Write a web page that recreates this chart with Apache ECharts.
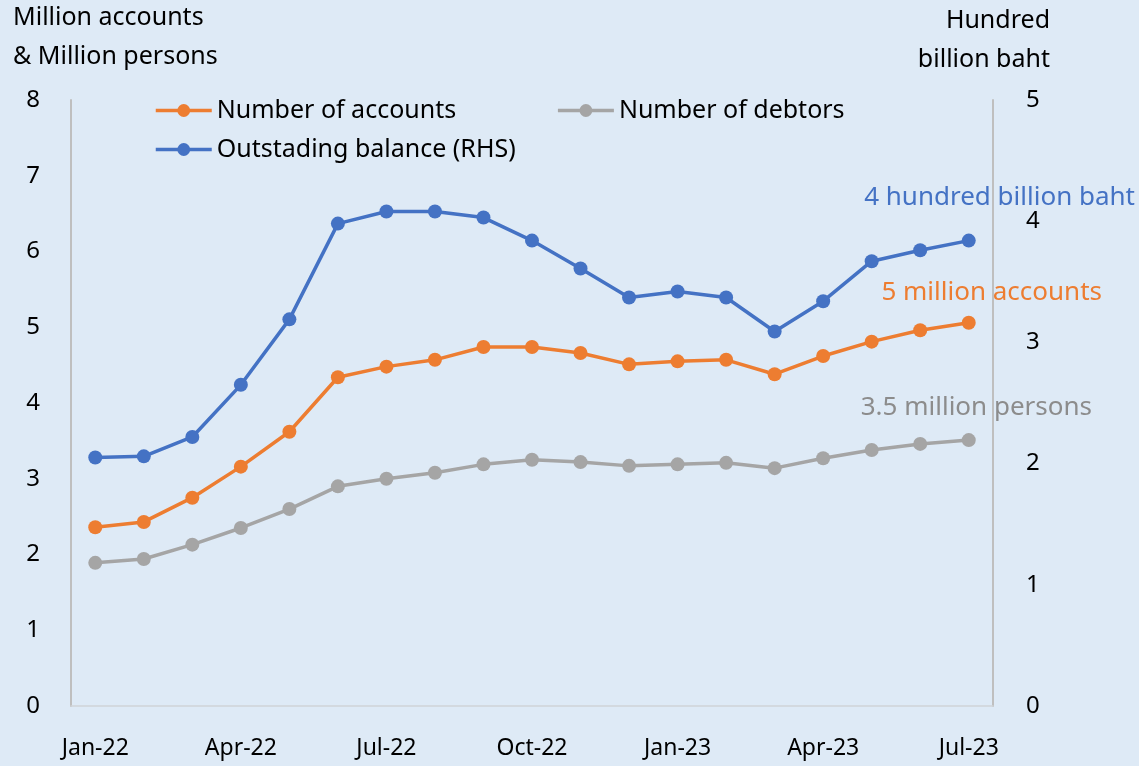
<!DOCTYPE html>
<html><head><meta charset="utf-8">
<script src="https://cdn.jsdelivr.net/npm/echarts@6/dist/echarts.min.js"></script>
<style>html,body{margin:0;padding:0;background:#deeaf6;}#c{width:1139px;height:766px;}</style>
</head><body><div id="c"></div>
<script>
const categories = ['Jan-22','Feb-22','Mar-22','Apr-22','May-22','Jun-22','Jul-22','Aug-22','Sep-22','Oct-22','Nov-22','Dec-22','Jan-23','Feb-23','Mar-23','Apr-23','May-23','Jun-23','Jul-23'];
const accounts = [2.36,2.43,2.75,3.16,3.62,4.34,4.48,4.57,4.74,4.74,4.66,4.51,4.55,4.57,4.38,4.62,4.81,4.96,5.06];
const debtors  = [1.89,1.94,2.13,2.35,2.60,2.90,3.00,3.08,3.19,3.25,3.22,3.17,3.19,3.21,3.14,3.27,3.38,3.46,3.51];
const balance  = [2.05,2.06,2.22,2.65,3.19,3.98,4.08,4.08,4.03,3.84,3.61,3.37,3.42,3.37,3.09,3.34,3.67,3.76,3.84];
const leftTicks = [0,8,1];
const rightTicks = [0,5,1];

const FONT = 'Noto Sans';
const chart = echarts.init(document.getElementById('c'));
function lineSeries(name, data, color, yi){
  return {name, type:'line', data, yAxisIndex: yi, symbol:'circle', symbolSize:14,
    lineStyle:{width:3.5,color}, itemStyle:{color}, z: 3};
}
const legendText = {fontFamily:FONT,fontSize:25,color:'#000'};
chart.setOption({
  backgroundColor:'#deeaf6',
  textStyle:{fontFamily:FONT},
  grid:{left:71,right:146,top:100,bottom:60},
  legend:[
    {data:['Number of accounts','Number of debtors'], left:149, top:93, itemWidth:56, itemHeight:16, itemGap:100,
     lineStyle:{width:3.5}, textStyle:legendText},
    {data:['Outstading balance (RHS)'], left:149, top:132, itemWidth:56, itemHeight:16,
     lineStyle:{width:3.5}, textStyle:legendText}
  ],
  xAxis:{type:'category', data:categories, boundaryGap:true,
    axisLine:{lineStyle:{color:'#d0d4d8',width:1.5}}, axisTick:{show:false},
    axisLabel:{interval:2, color:'#000', fontSize:23, fontFamily:FONT, margin:31}},
  yAxis:[
    {type:'value', min:leftTicks[0], max:leftTicks[1], interval:leftTicks[2], splitLine:{show:false},
     axisLine:{show:true,lineStyle:{color:'#bfbfbf',width:2}}, axisTick:{show:false},
     axisLabel:{color:'#000',fontSize:24,fontFamily:FONT,margin:31}},
    {type:'value', min:rightTicks[0], max:rightTicks[1], interval:rightTicks[2], splitLine:{show:false},
     axisLine:{show:true,lineStyle:{color:'#bfbfbf',width:2}}, axisTick:{show:false},
     axisLabel:{color:'#000',fontSize:24,fontFamily:FONT,margin:33}}
  ],
  series:[
    lineSeries('Number of accounts', accounts, '#ED7D31', 0),
    lineSeries('Number of debtors', debtors, '#A5A5A5', 0),
    lineSeries('Outstading balance (RHS)', balance, '#4472C4', 1)
  ],
  graphic:[
    {type:'text', z:100, left:13, top:5, style:{text:'Million accounts', font:'25px "Noto Sans"', fill:'#000'}},
    {type:'text', z:100, left:13, top:44, style:{text:'& Million persons', font:'25px "Noto Sans"', fill:'#000'}},
    {type:'text', z:100, right:89, top:8, style:{text:'Hundred', font:'25px "Noto Sans"', fill:'#000'}},
    {type:'text', z:100, right:89, top:47, style:{text:'billion baht', font:'25px "Noto Sans"', fill:'#000'}},
    {type:'text', z:100, right:4, top:185, style:{text:'4 hundred billion baht', font:'26px "Noto Sans"', fill:'#4472C4'}},
    {type:'text', z:100, right:37, top:280, style:{text:'5 million accounts', font:'26px "Noto Sans"', fill:'#ED7D31'}},
    {type:'text', z:100, right:47, top:395, style:{text:'3.5 million persons', font:'26px "Noto Sans"', fill:'#8c8c8c'}}
  ]
});
</script></body></html>
